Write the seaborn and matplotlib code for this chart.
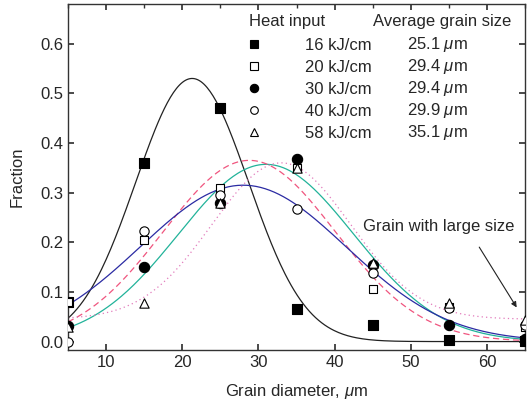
import numpy as np
import pandas as pd
import matplotlib
matplotlib.use('Agg')
import matplotlib.pyplot as plt
import seaborn as sns
from matplotlib.lines import Line2D
from matplotlib.ticker import MultipleLocator

sns.set_theme(style='ticks')
plt.rcParams['font.family'] = ['Liberation Sans', 'DejaVu Sans']
plt.rcParams['mathtext.fontset'] = 'custom'
plt.rcParams['mathtext.rm'] = 'Liberation Sans'
plt.rcParams['mathtext.it'] = 'Liberation Sans:italic'

# measured fractions per grain diameter bin
diameter = [5, 15, 25, 35, 45, 55, 65]
heat_inputs = ['16 kJ/cm', '20 kJ/cm', '30 kJ/cm', '40 kJ/cm', '58 kJ/cm']
grain_sizes = ['25.1', '29.4', '29.4', '29.9', '35.1']
frac_16 = [0.080, 0.360, 0.470, 0.066, 0.034, 0.003, 0.002]
frac_20 = [0.080, 0.205, 0.310, 0.350, 0.106, 0.070, 0.030]
frac_30 = [0.032, 0.150, 0.280, 0.367, 0.155, 0.034, 0.005]
frac_40 = [0.000, 0.222, 0.296, 0.268, 0.139, 0.068, 0.034]
frac_58 = [0.030, 0.078, 0.280, 0.349, 0.159, 0.078, 0.044]

# gaussian fit parameters: y0 + A*exp(-(x-xc)^2/(2w^2))
fit_y0 = [0.0, 0.0, 0.0, 0.0, 0.045]
fit_A = [0.53, 0.357, 0.365, 0.315, 0.315]
fit_xc = [21.3, 31.0, 28.8, 28.0, 33.0]
fit_w = [7.4, 11.5, 11.3, 13.5, 9.1]
fit_colors = ['#222222', '#22b39a', '#f0557f', '#2b2ba3', '#e27cbc']
fit_dashes = [None, None, (5, 3), None, (1, 2.5)]

markers = ['s', 's', 'o', 'o', '^']
filled = [True, False, True, False, False]
msizes = [45, 32, 55, 45, 45]

series = [frac_16, frac_20, frac_30, frac_40, frac_58]

fig = plt.figure(figsize=(5.28, 4.05), dpi=100)
ax = fig.add_axes([68 / 528, 1 - 350 / 405, 457 / 528, 346 / 405])

xs = np.linspace(5, 65, 300)
for i in range(5):
    ys = fit_y0[i] + fit_A[i] * np.exp(-(xs - fit_xc[i]) ** 2 / (2 * fit_w[i] ** 2))
    sns.lineplot(x=xs, y=ys, ax=ax, color=fit_colors[i], lw=0.9, zorder=2)
    if fit_dashes[i] is not None:
        ax.lines[-1].set_dashes(fit_dashes[i])

for i in range(5):
    df = pd.DataFrame({'d': diameter, 'f': series[i]})
    sns.scatterplot(data=df, x='d', y='f', ax=ax, marker=markers[i], s=msizes[i],
                    facecolor='black' if filled[i] else 'white',
                    edgecolor='black', linewidth=0.8, zorder=3 + i)

ax.set_xlim(5, 65)
ax.set_ylim(-0.017, 0.68)
ax.xaxis.set_major_locator(MultipleLocator(10))
ax.xaxis.set_minor_locator(MultipleLocator(5))
ax.set_yticks([0.0, 0.1, 0.2, 0.3, 0.4, 0.5, 0.6])
ax.set_yticklabels(['0.0', '0.1', '0.2', '0.3', '0.4', '0.5', '0.6'])
ax.tick_params(which='major', direction='in', top=True, right=True,
               length=4, labelsize=12, color='#333333')
ax.tick_params(which='minor', direction='in', bottom=False, top=True,
               length=3, color='#333333')
for s in ax.spines.values():
    s.set_linewidth(1.0)
    s.set_color('#333333')

ax.set_xlabel(r'Grain diameter, $\mu$m', fontsize=12, labelpad=9)
ax.set_ylabel('Fraction', fontsize=12, labelpad=11)

handles = [Line2D([], [], ls='none', marker=markers[i],
                  markersize=6 if filled[i] else 5.5,
                  markerfacecolor='black' if filled[i] else 'white',
                  markeredgecolor='black', markeredgewidth=0.8)
           for i in range(5)]
ax.legend(handles, heat_inputs, loc='upper left', bbox_to_anchor=(0.37, 0.925),
          frameon=False, fontsize=12, handlelength=1.0, handletextpad=2.55,
          labelspacing=0.42, borderpad=0.0)

ax.text(0.396, 0.948, 'Heat input', transform=ax.transAxes, fontsize=12,
        va='center', ha='left')
ax.text(0.667, 0.948, 'Average grain size', transform=ax.transAxes, fontsize=12,
        va='center', ha='left')
row_y = [0.884, 0.820, 0.756, 0.692, 0.628]
for yy, g in zip(row_y, grain_sizes):
    ax.text(0.742, yy, g + r' $\mu$m', transform=ax.transAxes, fontsize=12,
            va='center', ha='left')

ax.annotate('Grain with large size', xy=(64.1, 0.064), xytext=(43.7, 0.232),
            fontsize=12, va='center', ha='left')
ax.annotate('', xy=(64.1, 0.064), xytext=(58.8, 0.195),
            arrowprops=dict(arrowstyle='-|>', color='#222222', lw=0.8,
                            mutation_scale=8))

fig.savefig('out.png', dpi=100)
